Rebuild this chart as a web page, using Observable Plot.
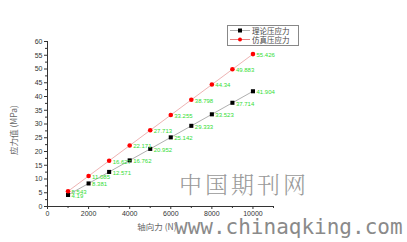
<!DOCTYPE html>
<html><head><meta charset="utf-8">
<script src="https://cdn.jsdelivr.net/npm/d3@7"></script>
<script src="https://cdn.jsdelivr.net/npm/@observablehq/plot@0.6"></script>
<style>
body{margin:0;background:#fff;}
#wrap{position:relative;width:407px;height:242px;overflow:hidden;font-family:"Liberation Sans",Arial,sans-serif;}
.wm{position:absolute;color:#8a8a8a;white-space:nowrap;}
#legend{position:absolute;left:227px;top:25px;width:70px;height:19px;border:1px solid #888;background:#fff;font-family:"Noto Sans CJK SC",sans-serif;font-size:7.5px;color:#444;}
#legend div{display:flex;align-items:center;height:9px;line-height:9px;}
</style></head>
<body><div id="wrap"></div>
<script>
const forces = [1000,2000,3000,4000,5000,6000,7000,8000,9000,10000];
const theory = [4.19,8.381,12.571,16.762,20.952,25.142,29.333,33.523,37.714,41.904];
const simulation = [5.543,11.085,16.627,22.171,27.713,33.255,38.798,44.34,49.883,55.426];
const xTicks = [0,2000,4000,6000,8000,10000];
const yTicks = [0,5,10,15,20,25,30,35,40,45,50,55,60];
const seriesNames = ["理论压应力","仿真压应力"];

const tData = forces.map((f,i)=>({f, v: theory[i], label: String(theory[i])}));
const sData = forces.map((f,i)=>({f, v: simulation[i], label: String(simulation[i])}));

const chart = Plot.plot({
  width: 407, height: 242,
  marginLeft: 47, marginTop: 41, marginBottom: 36, marginRight: 134,
  style: {fontFamily: "'Liberation Sans', Arial, sans-serif", fontSize: "7px", color: "#333", background: "transparent"},
  x: {domain: [0, 11000]},
  y: {domain: [0, 60]},
  marks: [
    Plot.ruleY([0], {stroke: "#333"}),
    Plot.ruleX([0], {stroke: "#333"}),
    Plot.axisX({ticks: xTicks, tickSize: 3, tickFormat: d => String(d), label: null, fontSize: 7, tickPadding: 2}),
    Plot.axisX({ticks: d3.range(1000, 11001, 2000), tickSize: 2, tickFormat: () => "", label: null}),
    Plot.axisY({ticks: yTicks, tickSize: 3, tickFormat: d => String(d), label: null, fontSize: 7, tickPadding: 2}),
    Plot.axisY({ticks: d3.range(2.5, 60, 5), tickSize: 2, tickFormat: () => "", label: null}),
    Plot.line(tData, {x: "f", y: "v", stroke: "#9a9a9a", strokeWidth: 0.8}),
    Plot.line(sData, {x: "f", y: "v", stroke: "#e8a0a0", strokeWidth: 0.8}),
    Plot.dot(tData, {x: "f", y: "v", symbol: "square", r: 2.3, fill: "#000", stroke: "none"}),
    Plot.dot(sData, {x: "f", y: "v", symbol: "circle", r: 2.3, fill: "#ff0000", stroke: "none"}),
    Plot.text(tData, {x: "f", y: "v", text: "label", dx: 3.5, dy: 1, textAnchor: "start", fill: "#33dd33", fontSize: 6}),
    Plot.text(sData, {x: "f", y: "v", text: "label", dx: 3.5, dy: 1, textAnchor: "start", fill: "#33dd33", fontSize: 6})
  ]
});
const wrap = document.getElementById("wrap");
chart.style.position = "absolute"; chart.style.left = "0"; chart.style.top = "0";
wrap.appendChild(chart);

// axis titles
const svg = d3.select(chart);
svg.append("text").attr("transform","translate(17,130) rotate(-90)").attr("text-anchor","middle")
  .attr("font-family","'Noto Sans CJK SC',sans-serif").attr("font-size",8.5).attr("fill","#666").text("应力值 (MPa)");
svg.append("text").attr("x",157).attr("y",230).attr("text-anchor","middle")
  .attr("font-family","'Noto Sans CJK SC',sans-serif").attr("font-size",8.5).attr("fill","#666").text("轴向力 (N)");

// legend
const legend = document.createElement("div");
legend.id = "legend";
const mk = (name, color, sym) => `<div><svg width="24" height="9" style="flex:none"><line x1="2" x2="22" y1="4.5" y2="4.5" stroke="${color==='#000'?'#9a9a9a':'#e06060'}" stroke-width="0.8"/>${sym==='sq'?`<rect x="10" y="2.5" width="4" height="4" fill="${color}"/>`:`<circle cx="12" cy="4.5" r="2" fill="${color}"/>`}</svg><span>${name}</span></div>`;
legend.innerHTML = mk(seriesNames[0], "#000", "sq") + mk(seriesNames[1], "#ff0000", "ci");
wrap.appendChild(legend);

// watermark
const w1 = document.createElement("div"); w1.className = "wm";
w1.style.cssText += "left:179px;top:167px;font-family:'Noto Serif CJK SC','Noto Sans CJK SC',serif;font-size:23px;letter-spacing:3px;color:#999;font-weight:300;";
w1.textContent = "中国期刊网"; wrap.appendChild(w1);
const w2 = document.createElement("div"); w2.className = "wm";
w2.style.cssText += "left:175px;top:215px;font-family:'DejaVu Sans Mono',monospace;font-size:21px;color:#8a8a8a;";
w2.textContent = "www.chinaqking.com"; wrap.appendChild(w2);
</script></body></html>
